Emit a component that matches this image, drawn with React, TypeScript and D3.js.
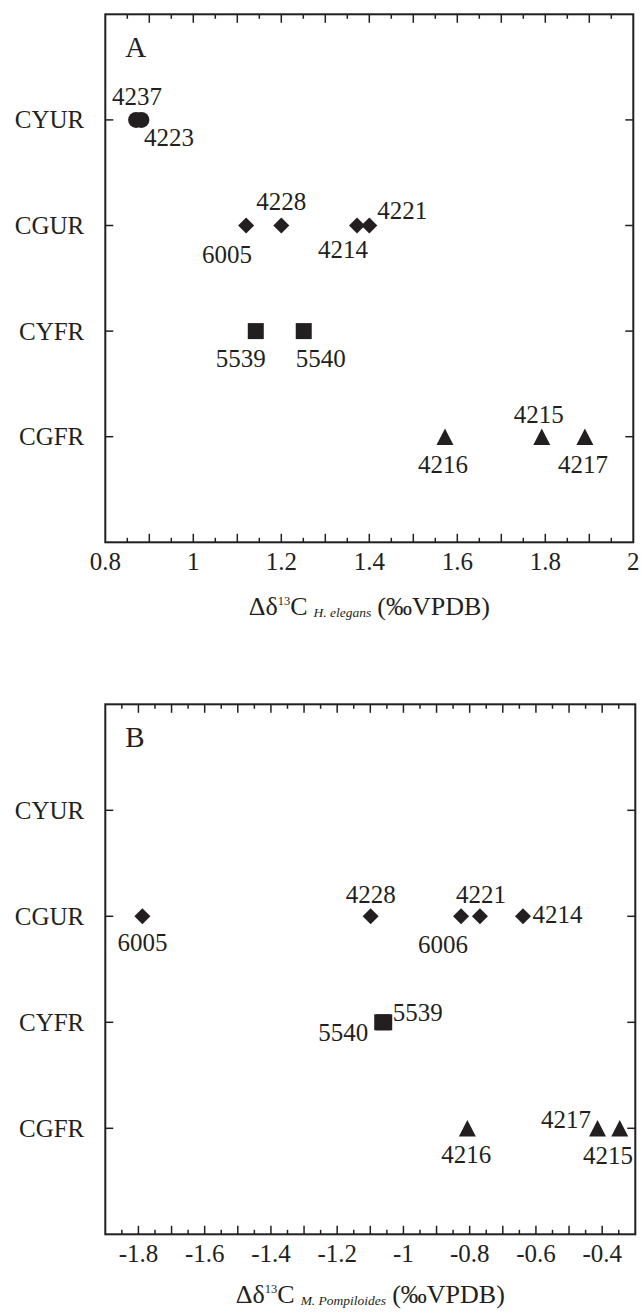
import React from "react";
import * as d3 from "d3";

// ---------- data ----------
const categories = ["CGFR", "CYFR", "CGUR", "CYUR"]; // bottom -> top

const aSamples = ["4237", "4223", "6005", "4228", "4214", "4221", "5539", "5540", "4216", "4215", "4217"];
const aValues = [0.87, 0.882, 1.12, 1.2, 1.372, 1.4, 1.142, 1.251, 1.572, 1.792, 1.89];
const aGroups = ["CYUR", "CYUR", "CGUR", "CGUR", "CGUR", "CGUR", "CYFR", "CYFR", "CGFR", "CGFR", "CGFR"];
const aTickLabels = ["0.8", "1", "1.2", "1.4", "1.6", "1.8", "2"];
const aTickValues = [0.8, 1, 1.2, 1.4, 1.6, 1.8, 2];

const bSamples = ["6005", "4228", "6006", "4221", "4214", "5540", "5539", "4216", "4217", "4215"];
const bValues = [-1.788, -1.099, -0.826, -0.769, -0.639, -1.064, -1.058, -0.807, -0.414, -0.347];
const bGroups = ["CGUR", "CGUR", "CGUR", "CGUR", "CGUR", "CYFR", "CYFR", "CGFR", "CGFR", "CGFR"];
const bTickLabels = ["-1.8", "-1.6", "-1.4", "-1.2", "-1", "-0.8", "-0.6", "-0.4"];
const bTickValues = [-1.8, -1.6, -1.4, -1.2, -1, -0.8, -0.6, -0.4];

// ---------- label placement (annotation offsets, px) ----------
type LabelPos = { dx: number; dy: number; anchor: "start" | "middle" | "end" };
const aLabelPos: LabelPos[] = [
  { dx: 1, dy: -23, anchor: "middle" },
  { dx: 27.5, dy: 17.5, anchor: "middle" },
  { dx: -19, dy: 28.5, anchor: "middle" },
  { dx: 0, dy: -24.5, anchor: "middle" },
  { dx: -14, dy: 24, anchor: "middle" },
  { dx: 33, dy: -15, anchor: "middle" },
  { dx: -15, dy: 27, anchor: "middle" },
  { dx: 17, dy: 27, anchor: "middle" },
  { dx: -2, dy: 27.5, anchor: "middle" },
  { dx: -3, dy: -22, anchor: "middle" },
  { dx: -2, dy: 27.5, anchor: "middle" },
];
const bLabelPos: LabelPos[] = [
  { dx: 0, dy: 26, anchor: "middle" },
  { dx: 0, dy: -21.7, anchor: "middle" },
  { dx: -18, dy: 28.3, anchor: "middle" },
  { dx: 1, dy: -21.7, anchor: "middle" },
  { dx: 9.5, dy: -2, anchor: "start" },
  { dx: -14, dy: 10.6, anchor: "end" },
  { dx: 8.6, dy: -10.2, anchor: "start" },
  { dx: -1, dy: 26, anchor: "middle" },
  { dx: -6.5, dy: -9, anchor: "end" },
  { dx: -11.7, dy: 27, anchor: "middle" },
];

// ---------- styles ----------
const INK = "#231f20";
const FONT = "'Liberation Serif', 'Times New Roman', Times, serif";
const FS = 25;

const diamondType = {
  draw(ctx: any, size: number) {
    const r = Math.sqrt(size) / 2;
    ctx.moveTo(0, -r);
    ctx.lineTo(r, 0);
    ctx.lineTo(0, r);
    ctx.lineTo(-r, 0);
    ctx.closePath();
  },
};
const squareType = {
  draw(ctx: any, size: number) {
    const h = Math.sqrt(size) / 2;
    ctx.rect(-h, -h, 2 * h, 2 * h);
  },
};
const triangleType = {
  draw(ctx: any, size: number) {
    const h = Math.sqrt(size) / 2;
    ctx.moveTo(0, -h - 0.3);
    ctx.lineTo(h + 0.5, h + 0.3);
    ctx.lineTo(-h - 0.5, h + 0.3);
    ctx.closePath();
  },
};

function symbolPath(group: string): string {
  if (group === "CYUR") return d3.symbol().type(d3.symbolCircle).size(Math.PI * 64)() as string;
  if (group === "CGUR") return d3.symbol().type(diamondType as any).size(256)() as string;
  if (group === "CYFR") return d3.symbol().type(squareType as any).size(256)() as string;
  return d3.symbol().type(triangleType as any).size(256)() as string;
}

type PanelProps = {
  left: number;
  top: number;
  width: number;
  height: number;
  domain: [number, number];
  samples: string[];
  values: number[];
  groups: string[];
  labelPos: LabelPos[];
  tickValues: number[];
  tickLabels: string[];
  letter: string;
  subscript: string;
  titleY: number;
};

function Panel(p: PanelProps) {
  const x = d3.scaleLinear().domain(p.domain).range([p.left, p.left + p.width]);
  const y = d3.scaleLinear().domain([0, categories.length + 1]).range([p.top + p.height, p.top]);
  const bottom = p.top + p.height;
  const right = p.left + p.width;

  const steps = Math.round((p.domain[1] - p.domain[0]) / 0.05);
  const minor = d3.range(1, steps).map((i) => p.domain[0] + i * 0.05);
  const isMajor = (v: number) => Math.abs(Math.round(v * 10) - v * 10) < 1e-6;

  return (
    <g>
      {/* frame */}
      <rect x={p.left} y={p.top} width={p.width} height={p.height} fill="none" stroke={INK} strokeWidth={2} />
      {/* x ticks top and bottom */}
      {minor.map((v, i) => {
        const len = isMajor(v) ? 8.5 : 4.5;
        const xx = x(v);
        return (
          <g key={"t" + i} stroke={INK} strokeWidth={1.5}>
            <line x1={xx} x2={xx} y1={bottom} y2={bottom - len} />
            <line x1={xx} x2={xx} y1={p.top} y2={p.top + len} />
          </g>
        );
      })}
      {/* x tick labels */}
      {p.tickValues.map((v, i) => (
        <text key={"xl" + i} x={x(v)} y={bottom + 28} textAnchor="middle" fontSize={FS} fontFamily={FONT} fill={INK}>
          {p.tickLabels[i]}
        </text>
      ))}
      {/* y ticks and labels */}
      {categories.map((c, i) => {
        const yy = y(i + 1);
        return (
          <g key={"y" + c}>
            <line x1={p.left} x2={p.left + 8} y1={yy} y2={yy} stroke={INK} strokeWidth={1.5} />
            <line x1={right} x2={right - 8} y1={yy} y2={yy} stroke={INK} strokeWidth={1.5} />
            <text x={p.left - 21} y={yy + 8.5} textAnchor="end" fontSize={FS} fontFamily={FONT} fill={INK}>
              {c}
            </text>
          </g>
        );
      })}
      {/* panel letter */}
      <text x={p.left + 20} y={p.top + 42.5} fontSize={29} fontFamily={FONT} fill={INK}>
        {p.letter}
      </text>
      {/* points */}
      {p.values.map((v, i) => {
        const cx = x(v);
        const cy = y(categories.indexOf(p.groups[i]) + 1);
        return (
          <path key={"p" + i} d={symbolPath(p.groups[i])} transform={`translate(${cx},${cy})`} fill={INK} />
        );
      })}
      {/* point labels */}
      {p.values.map((v, i) => {
        const cx = x(v);
        const cy = y(categories.indexOf(p.groups[i]) + 1);
        const lp = p.labelPos[i];
        return (
          <text
            key={"l" + i}
            x={cx + lp.dx}
            y={cy + lp.dy + 8.5}
            textAnchor={lp.anchor}
            fontSize={FS}
            fontFamily={FONT}
            fill={INK}
          >
            {p.samples[i]}
          </text>
        );
      })}
      {/* axis title */}
      <text x={p.left + p.width / 2} y={p.titleY} textAnchor="middle" fontSize={26} fontFamily={FONT} fill={INK}>
        <tspan>Δδ</tspan>
        <tspan fontSize={12.5} dy={-10}>13</tspan>
        <tspan dy={10}>C</tspan>
        <tspan fontSize={13.5} fontStyle="italic" dx={6} dy={2}>{p.subscript}</tspan>
        <tspan dx={6} dy={-2}>(‰VPDB)</tspan>
      </text>
    </g>
  );
}

export default function App() {
  return (
    <svg
      width={641}
      height={1313}
      viewBox="0 0 641 1313"
      style={{ position: "absolute", left: 0, top: 0, background: "#fff" }}
    >
      <rect x={0} y={0} width={641} height={1313} fill="#fff" />
      <Panel
        left={105.3}
        top={14.3}
        width={528}
        height={528}
        domain={[0.8, 2]}
        samples={aSamples}
        values={aValues}
        groups={aGroups}
        labelPos={aLabelPos}
        tickValues={aTickValues}
        tickLabels={aTickLabels}
        letter="A"
        subscript="H. elegans"
        titleY={615}
      />
      <Panel
        left={105.3}
        top={704.3}
        width={530}
        height={530}
        domain={[-1.9, -0.3]}
        samples={bSamples}
        values={bValues}
        groups={bGroups}
        labelPos={bLabelPos}
        tickValues={bTickValues}
        tickLabels={bTickLabels}
        letter="B"
        subscript="M. Pompiloides"
        titleY={1303}
      />
    </svg>
  );
}
